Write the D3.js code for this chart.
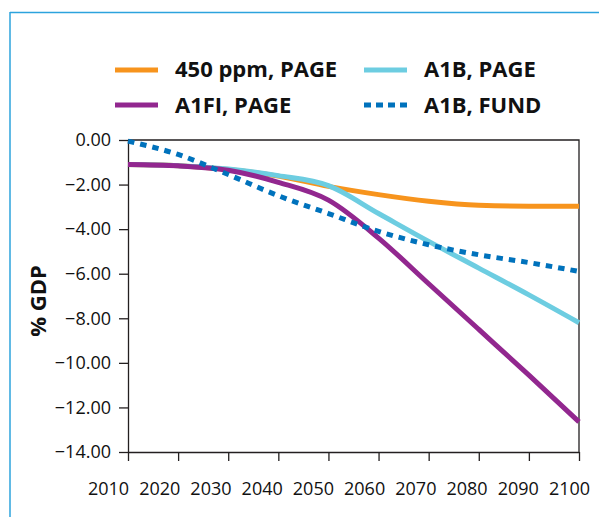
<!DOCTYPE html>
<html>
<head>
<meta charset="utf-8">
<script src="https://cdn.jsdelivr.net/npm/d3@7"></script>
<style>
  html, body { margin: 0; padding: 0; background: #fff; }
  svg { display: block; }
  text { font-family: "Open Sans", "Noto Sans", sans-serif; fill: #111; }
</style>
</head>
<body>
<svg id="chart" width="599" height="517"></svg>
<script>
// Years on the horizontal axis
const years = [2010, 2020, 2030, 2040, 2050, 2060, 2070, 2080, 2090, 2100];

// Damage estimates, % of GDP
const ppm450Page = [-1.10, -1.15, -1.32, -1.62, -2.08, -2.45, -2.75, -2.93, -2.97, -2.97];
const a1fiPage   = [-1.10, -1.16, -1.36, -1.90, -2.70, -4.40, -6.45, -8.50, -10.55, -12.65];
const a1bPage    = [-1.10, -1.15, -1.30, -1.60, -2.05, -3.30, -4.55, -5.75, -6.95, -8.20];
const a1bFund    = [-0.05, -0.65, -1.55, -2.50, -3.30, -4.10, -4.70, -5.15, -5.50, -5.90];

// Series names as shown in the legend
const seriesNames = ["450 ppm, PAGE", "A1FI, PAGE", "A1B, PAGE", "A1B, FUND"];

// Vertical axis ticks and their labels
const yTicks = [0, -2, -4, -6, -8, -10, -12, -14];
const yTickLabels = ["0.00", "\u22122.00", "\u22124.00", "\u22126.00", "\u22128.00", "\u221210.00", "\u221212.00", "\u221214.00"];
const yAxisTitle = "% GDP";

const svg = d3.select("#chart");
const axisColor = "#231f20";

// Outer panel frame (continues past the right and bottom edges)
svg.append("line").attr("x1", 10).attr("x2", 599).attr("y1", 12.5).attr("y2", 12.5)
  .attr("stroke", "#2ca3dd").attr("stroke-width", 1.5);
svg.append("line").attr("x1", 10).attr("x2", 10).attr("y1", 12).attr("y2", 517)
  .attr("stroke", "#2ca3dd").attr("stroke-width", 1.5);

const plot = { left: 128, right: 579, top: 140, bottom: 452 };

const x = d3.scaleLinear().domain([2010, 2100]).range([plot.left, plot.right]);
const y = d3.scaleLinear().domain([-14, 0]).range([plot.bottom, plot.top]);
const xLabel = d3.scalePoint().domain(years).range([108, 569]);

// Plot box: top and right edges
svg.append("path")
  .attr("d", `M${plot.left},${plot.top}H${plot.right}V${plot.bottom}`)
  .attr("fill", "none").attr("stroke", axisColor).attr("stroke-width", 1.3);

// Y axis
const yAxis = svg.append("g")
  .attr("transform", `translate(${plot.left},0)`)
  .call(d3.axisLeft(y).tickValues(yTicks)
    .tickFormat((d, i) => yTickLabels[i])
    .tickSize(9).tickSizeOuter(0).tickPadding(8));
yAxis.selectAll("path, line").attr("stroke", axisColor).attr("stroke-width", 1.3);
yAxis.selectAll("text").attr("font-size", 18).attr("font-family", "Open Sans").attr("fill", "#111");

// X axis: tick marks on the years, labels drawn on their own row
const xAxis = svg.append("g")
  .attr("transform", `translate(0,${plot.bottom})`)
  .call(d3.axisBottom(x).tickValues(years).tickFormat("").tickSize(9).tickSizeOuter(0));
xAxis.selectAll("path, line").attr("stroke", axisColor).attr("stroke-width", 1.3);

const xLabels = svg.append("g")
  .attr("transform", `translate(0,${plot.bottom + 30})`)
  .call(d3.axisBottom(xLabel).tickFormat(d3.format("d")).tickSize(0).tickPadding(0));
xLabels.select(".domain").remove();
xLabels.selectAll("text").attr("font-size", 18).attr("font-family", "Open Sans").attr("fill", "#111");

// Y axis title
svg.append("text")
  .attr("transform", "translate(46,301) rotate(-90)")
  .attr("text-anchor", "middle")
  .attr("font-size", 22).attr("font-weight", 700)
  .text(yAxisTitle);

// Series lines
const series = [
  { name: seriesNames[0], values: ppm450Page, color: "#f7941d", dash: null },
  { name: seriesNames[2], values: a1bPage,    color: "#6dcde1", dash: null },
  { name: seriesNames[1], values: a1fiPage,   color: "#92278f", dash: null },
  { name: seriesNames[3], values: a1bFund,    color: "#0072bc", dash: "6.5,6" }
];

const line = d3.line()
  .x((d, i) => x(years[i]))
  .y(d => y(d))
  .curve(d3.curveMonotoneX);

svg.append("g").selectAll("path")
  .data(series)
  .join("path")
  .attr("d", d => line(d.values))
  .attr("fill", "none")
  .attr("stroke", d => d.color)
  .attr("stroke-width", 5)
  .attr("stroke-dasharray", d => d.dash);

// Legend: two columns, two rows
const legendPos = [
  { lx: 115, ly: 70, tx: 175, ty: 77 },
  { lx: 364, ly: 70, tx: 424, ty: 77 },
  { lx: 115, ly: 105, tx: 175, ty: 113 },
  { lx: 364, ly: 105, tx: 424, ty: 113 }
];
const legendItems = [series[0], series[1], series[2], series[3]];
const legend = svg.append("g");
legendItems.forEach((s, i) => {
  const p = legendPos[i];
  legend.append("line")
    .attr("x1", p.lx).attr("x2", p.lx + 43)
    .attr("y1", p.ly).attr("y2", p.ly)
    .attr("stroke", s.color).attr("stroke-width", 5)
    .attr("stroke-dasharray", s.dash ? "7,5" : null);
  legend.append("text")
    .attr("x", p.tx).attr("y", p.ty)
    .attr("font-size", 22).attr("font-weight", 700)
    .text(s.name);
});
</script>
</body>
</html>
